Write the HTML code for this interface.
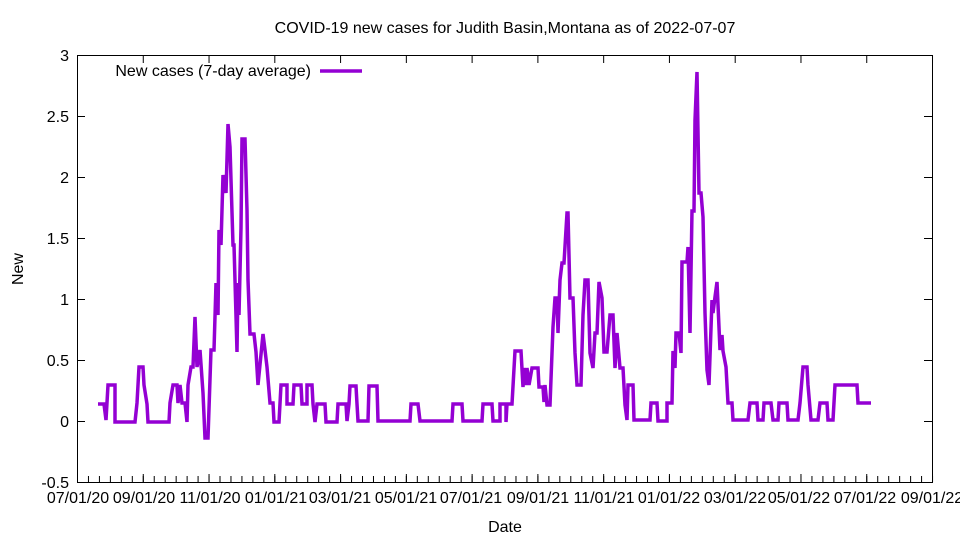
<!DOCTYPE html>
<html><head><meta charset="utf-8"><style>
html,body{margin:0;padding:0;background:#fff}
svg text{font-family:"Liberation Sans",sans-serif;font-size:16px;fill:#000}
</style></head><body>
<svg width="960" height="540" viewBox="0 0 960 540" xmlns="http://www.w3.org/2000/svg">
<rect width="960" height="540" fill="#fff"/>
<text x="505" y="33" text-anchor="middle">COVID-19 new cases for Judith Basin,Montana as of 2022-07-07</text>
<rect x="77.5" y="55.5" width="855" height="427" fill="none" stroke="#000" stroke-width="1"/>
<g stroke="#000" stroke-width="1">
<path d="M77 55.5h8M77 116.5h8M77 177.5h8M77 238.5h8M77 299.5h8M77 360.5h8M77 421.5h8M932 55.5h-8M932 116.5h-8M932 177.5h-8M932 238.5h-8M932 299.5h-8M932 360.5h-8M932 421.5h-8"/>
</g>
<g stroke="#000" fill="none">
<line x1="77" y1="479" x2="934" y2="479" stroke-width="6" stroke-dasharray="1 9.962"/>
<line x1="77" y1="478" x2="934" y2="478" stroke-width="8" stroke-dasharray="1 64.77"/>
<line x1="77" y1="59" x2="934" y2="59" stroke-width="8" stroke-dasharray="1 64.77"/>
</g>
<g text-anchor="end">
<text x="69" y="61">3</text><text x="69" y="122">2.5</text><text x="69" y="183">2</text><text x="69" y="244">1.5</text><text x="69" y="305">1</text><text x="69" y="366">0.5</text><text x="69" y="427">0</text><text x="69" y="488">-0.5</text>
</g>
<g text-anchor="middle">
<text x="78" y="503">07/01/20</text><text x="144" y="503">09/01/20</text><text x="210" y="503">11/01/20</text><text x="276" y="503">01/01/21</text><text x="340" y="503">03/01/21</text><text x="406" y="503">05/01/21</text><text x="471" y="503">07/01/21</text><text x="538" y="503">09/01/21</text><text x="604" y="503">11/01/21</text><text x="669" y="503">01/01/22</text><text x="735" y="503">03/01/22</text><text x="799" y="503">05/01/22</text><text x="865" y="503">07/01/22</text><text x="932" y="503">09/01/22</text>
</g>
<text x="505" y="532" text-anchor="middle">Date</text>
<text x="23" y="269" text-anchor="middle" transform="rotate(-90 23 269)">New</text>
<text x="311" y="76" text-anchor="end">New cases (7-day average)</text>
<path d="M320 71H362" stroke="#9400d3" stroke-width="3.5"/>
<polyline fill="none" stroke="#9400d3" stroke-width="3.5" stroke-linejoin="miter" points="
98,404 104,404 106,420 108,385 115,385 115,422 135,422 137,403 139,367 143,367 144,385 147,404 148,422 169,422 170,403 173,385 177,385 178,403 180,385 182,403 185,403 187,422 188,385 191,367 193,367 195,317 197,367 200,350 203,393 205,438 208,438 211,350 214,350 216,283 218,315 219,230 221,245 223,175 226,193 228,124 230,147 233,245 234,245 237,352 238,283 239,315 241,228 242,139 245,139 247,210 248,280 250,334 254,334 256,352 258,385 263,334 265,350 267,367 270,403 273,403 274,422 279,422 281,385 287,385 287,404 293,404 294,385 301,385 302,404 307,404 307,385 312,385 313,404 315,422 317,404 325,404 326,422 337,422 338,404 346,404 347,421 349,404 350,386 356,386 357,404 358,421 368,421 369,386 377,386 378,421 410,421 411,404 418,404 420,421 452,421 453,404 462,404 463,421 482,421 483,404 492,404 493,421 500,421 500,404 506,404 506,422 507,404 512,404 515,351 521,351 523,387 524,368 526,385 527,368 529,385 532,368 538,368 539,387 543,387 544,402 545,385 547,405 550,405 553,327 555,298 557,298 558,333 560,280 562,263 564,263 567,213 568,213 570,298 573,298 575,353 577,385 581,385 583,315 585,280 588,280 590,353 593,368 595,333 597,333 599,282 602,298 604,352 607,352 610,315 613,315 615,368 617,333 620,368 623,368 625,405 627,420 628,385 633,385 634,420 650,420 651,403 657,403 658,421 667,421 667,403 672,403 673,351 675,368 676,333 679,333 681,353 682,262 687,262 688,247 690,333 692,211 694,211 695,120 697,72 699,193 701,193 703,217 705,313 707,370 709,385 712,300 713,313 715,297 717,282 720,350 722,335 723,351 726,367 728,403 732,403 733,420 748,420 750,403 757,403 758,420 763,420 764,403 771,403 773,420 778,420 779,403 787,403 788,420 798,420 800,403 803,367 807,367 808,385 811,420 818,420 820,403 827,403 828,420 833,420 835,385 857,385 858,403 871,403"/>
</svg>
</body></html>
